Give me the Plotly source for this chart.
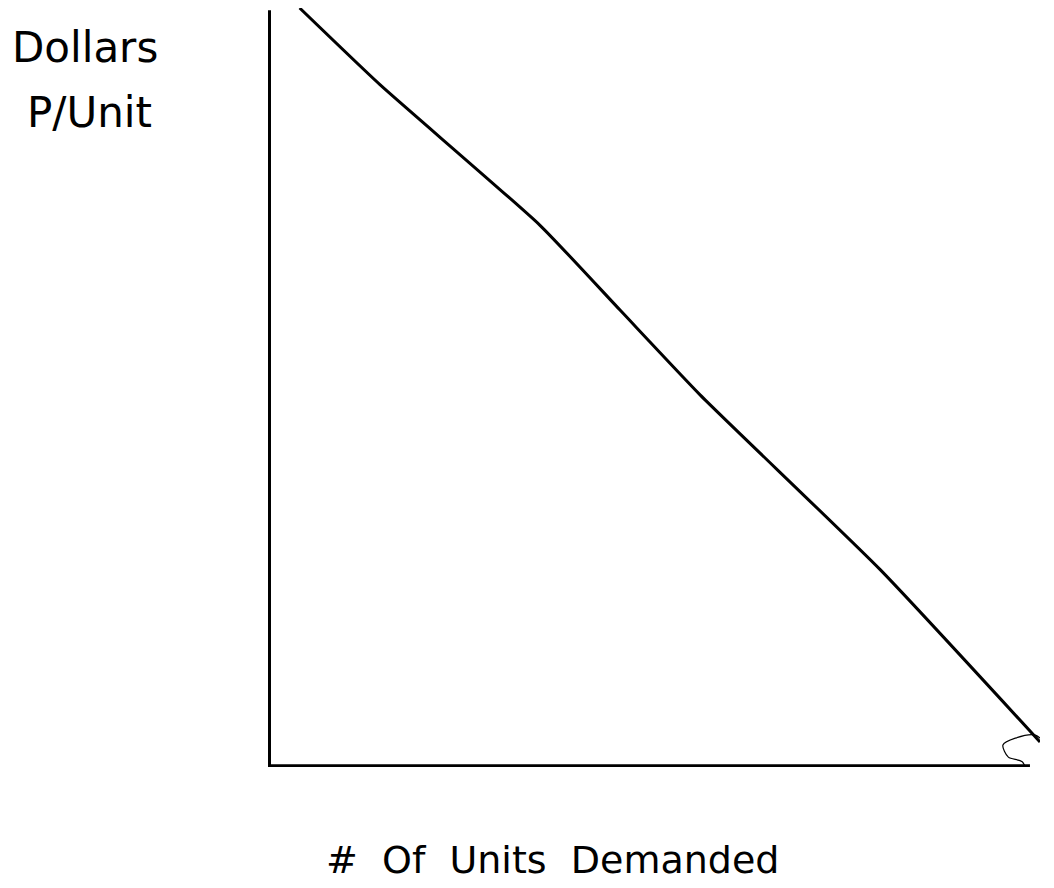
import plotly.graph_objects as go

# Demand curve (hand-drawn)
quantity = [4.1, 14.5, 35.2, 45.6, 56.0, 79.3, 100.0]
price = [100.0, 89.9, 71.4, 60.2, 49.0, 26.0, 3.3]

# small scribble at the end of the curve
tip_x = [95.2, 96.8, 99.4, 101.0, 100.0, 98.7, 97.7, 95.9, 95.2]
tip_y = [2.9, 3.8, 4.2, 2.5, -0.7, -1.1, 0.7, 1.3, 2.9]

x_label = "#  Of  Units  Demanded"
y_label_1 = "Dollars"
y_label_2 = "P/Unit"

FONT = "DejaVu Sans"

fig = go.Figure()
fig.add_trace(go.Scatter(x=quantity, y=price, mode="lines",
                         line=dict(color="black", width=3, shape="spline", smoothing=0.5),
                         showlegend=False, hoverinfo="skip", cliponaxis=False))
fig.add_trace(go.Scatter(x=tip_x, y=tip_y, mode="lines",
                         line=dict(color="black", width=1.2, shape="spline", smoothing=0.8),
                         showlegend=False, hoverinfo="skip", cliponaxis=False))

fig.update_layout(
    width=1054, height=888,
    margin=dict(l=260, r=22, t=0, b=129),
    paper_bgcolor="white", plot_bgcolor="white",
    xaxis=dict(range=[0, 100], showgrid=False, zeroline=False, showticklabels=False,
               ticks="", showline=False, fixedrange=True),
    yaxis=dict(range=[0, 100], showgrid=False, zeroline=False, showticklabels=False,
               ticks="", showline=False, fixedrange=True),
    shapes=[
        dict(type="line", xref="x", yref="y", x0=0, y0=0, x1=0, y1=99.7,
             line=dict(color="black", width=6)),
        dict(type="line", xref="x", yref="y", x0=-0.3, y0=0, x1=98.7, y1=0,
             line=dict(color="black", width=5.5)),
    ],
    annotations=[
        dict(text=y_label_1, xref="paper", yref="paper", x=-0.334, y=0.9486,
             xanchor="left", yanchor="middle", showarrow=False,
             font=dict(family=FONT, size=42, color="black")),
        dict(text=y_label_2, xref="paper", yref="paper", x=-0.3148, y=0.8617,
             xanchor="left", yanchor="middle", showarrow=False,
             font=dict(family=FONT, size=42, color="black")),
        dict(text=x_label, xref="paper", yref="paper", x=0.368, y=-0.1225,
             xanchor="center", yanchor="middle", showarrow=False,
             font=dict(family=FONT, size=38, color="black")),
    ],
)

fig.write_html("out.html")
